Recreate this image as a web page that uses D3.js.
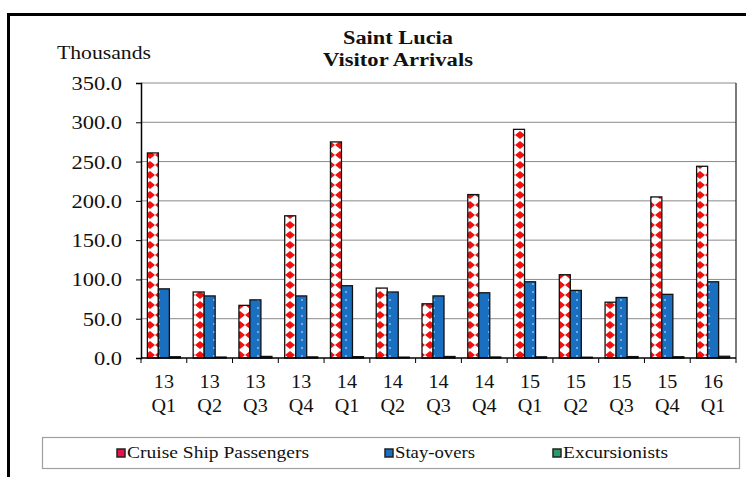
<!DOCTYPE html>
<html><head><meta charset="utf-8">
<script src="https://cdn.jsdelivr.net/npm/d3@7"></script>
<style>body{margin:0;background:#fff}svg{display:block}svg text{font-family:"Liberation Serif",serif !important}</style>
</head><body>
<script>
const categories = ["13 Q1","13 Q2","13 Q3","13 Q4","14 Q1","14 Q2","14 Q3","14 Q4","15 Q1","15 Q2","15 Q3","15 Q4","16 Q1"];
const cruise = [261,84,67,181,275,89,69,208,291,106,71,205,244];
const stayovers = [88,79,74,79,92,84,79,83,97,86,77,81,97];
const excursionists = [1.6,1.2,2.0,1.4,1.7,1.1,1.9,1.3,1.5,1.0,1.8,1.6,2.2];
const seriesNames = ["Cruise Ship Passengers","Stay-overs","Excursionists"];
const yTicks = [0,50,100,150,200,250,300,350];

const W=746,H=477;
const svg=d3.select("body").append("svg").attr("width",W).attr("height",H);
const defs=svg.append("defs");
const p1=defs.append("pattern").attr("id","pCruise").attr("patternUnits","userSpaceOnUse").attr("width",10).attr("height",10);
p1.append("rect").attr("width",10).attr("height",10).attr("fill","#fff");
p1.append("path").attr("d","M0,1 L5,5 L0,9 Z M10,1 L5,5 L10,9 Z").attr("fill","#f01010");
const p2=defs.append("pattern").attr("id","pStay").attr("patternUnits","userSpaceOnUse").attr("width",11).attr("height",8);
p2.append("rect").attr("width",11).attr("height",8).attr("fill","#1a6fc0");
p2.append("circle").attr("cx",5).attr("cy",4).attr("r",0.9).attr("fill","#9cc8f0");
const fills=["url(#pCruise)","url(#pStay)","#2a9a6a"];

function stretch(sel,k){sel.each(function(){const w=this.getComputedTextLength();this.setAttribute("textLength",w*k);this.setAttribute("lengthAdjust","spacingAndGlyphs");});}

svg.append("rect").attr("x",8.5).attr("y",14.5).attr("width",W+10).attr("height",H+10)
  .attr("fill","none").attr("stroke","#000").attr("stroke-width",3);

const m={l:141,r:736,t:83,b:358};
const x=d3.scaleBand().domain(categories).range([m.l,m.r]).paddingInner(0).paddingOuter(0);
const y=d3.scaleLinear().domain([0,350]).range([m.b,m.t]);
const bw=11;

svg.append("g").selectAll("line").data(yTicks.filter(d=>d>0)).join("line")
  .attr("x1",m.l).attr("x2",m.r).attr("y1",d=>y(d)).attr("y2",d=>y(d))
  .attr("stroke","#8a8a8a").attr("stroke-width",1);
svg.append("line").attr("x1",m.r).attr("x2",m.r).attr("y1",m.t).attr("y2",m.b).attr("stroke","#222").attr("stroke-width",1.2);

const series=[cruise,stayovers,excursionists];
series.forEach((vals,si)=>{
  svg.append("g").selectAll("rect").data(vals).join("rect")
    .attr("x",(d,i)=>x(categories[i])+x.bandwidth()/2-1.5*bw+si*bw)
    .attr("y",d=>y(d)).attr("width",bw).attr("height",d=>y(0)-y(d))
    .attr("fill",fills[si]).attr("stroke","#111").attr("stroke-width",1.3);
});

const ya=svg.append("g").attr("transform",`translate(${m.l},0)`)
  .call(d3.axisLeft(y).tickValues(yTicks).tickFormat(d3.format(".1f")).tickSize(5).tickPadding(14));
ya.select(".domain").attr("stroke","#000").attr("stroke-width",1.5);
ya.selectAll("line").attr("stroke","#000");
ya.selectAll("text").style("font-size","18px").attr("fill","#111").attr("dy","0.36em");
stretch(ya.selectAll("text"),1.25);

const xa=svg.append("g").attr("transform",`translate(0,${m.b})`);
xa.append("line").attr("x1",m.l).attr("x2",m.r).attr("stroke","#000").attr("stroke-width",1.5);
xa.selectAll("line.t").data(categories.concat(["end"])).join("line").attr("class","t")
  .attr("x1",(d,i)=>m.l+i*x.step()).attr("x2",(d,i)=>m.l+i*x.step()).attr("y1",0).attr("y2",5).attr("stroke","#000");
const xl=xa.selectAll("text").data(categories).join("text")
  .attr("text-anchor","middle").style("font-size","18px").attr("fill","#111");
xl.append("tspan").attr("x",d=>x(d)+x.bandwidth()/2).attr("y",30).text(d=>d.split(" ")[0]);
xl.append("tspan").attr("x",d=>x(d)+x.bandwidth()/2).attr("y",54).text(d=>d.split(" ")[1]);
stretch(xl.selectAll("tspan"),1.12);

const T=(xx,yy,s,txt,bold,anchor,len)=>{const t=svg.append("text").attr("x",xx).attr("y",yy)
  .attr("text-anchor",anchor||"start").style("font-size",s+"px")
  .style("font-weight",bold?"bold":"normal").attr("fill","#111").text(txt);
  if(len) t.attr("textLength",len).attr("lengthAdjust","spacingAndGlyphs"); return t;};
T(398,44,18,"Saint Lucia",true,"middle",110);
T(398,66,18,"Visitor Arrivals",true,"middle",150);
T(57,59,18.5,"Thousands",false,"start",94);

svg.append("rect").attr("x",42.5).attr("y",437.5).attr("width",697).attr("height",31)
  .attr("fill","#fff").attr("stroke","#a0a0a0").attr("stroke-width",1.2);
const legX=[117,385,553];
const legLen=[182,80,105];
const swatch=["#e8104a","#1a6fc0","#2a9a6a"];
seriesNames.forEach((n,i)=>{
  svg.append("rect").attr("x",legX[i]).attr("y",449).attr("width",8).attr("height",8)
    .attr("fill",swatch[i]).attr("stroke","#222").attr("stroke-width",1.5);
  T(legX[i]+10,458,17.5,n,false,"start",legLen[i]);
});
</script>
</body></html>
